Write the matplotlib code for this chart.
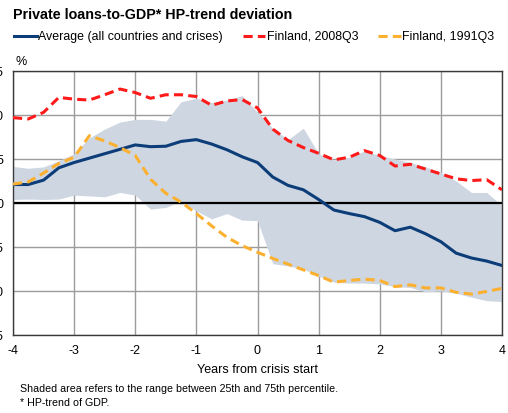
import numpy as np
import matplotlib.pyplot as plt

plt.rcParams['font.family'] = ['Liberation Sans', 'DejaVu Sans']

# Quarters from -4 to +4 years around the crisis start
years = np.arange(-4, 4.01, 0.25)

avg_all = [2.1, 2.1, 2.6, 4.0, 4.6, 5.1, 5.6, 6.1, 6.6, 6.4, 6.45, 7.0, 7.2,
           6.7, 6.05, 5.25, 4.6, 2.95, 2.0, 1.5, 0.4, -0.8, -1.2, -1.55, -2.2,
           -3.15, -2.75, -3.5, -4.4, -5.7, -6.25, -6.6, -7.1]
fin_2008 = [9.7, 9.55, 10.3, 12.0, 11.8, 11.7, 12.3, 12.95, 12.55, 11.9, 12.3,
            12.3, 12.1, 11.1, 11.6, 11.75, 10.8, 8.4, 7.1, 6.3, 5.65, 4.9, 5.2,
            5.95, 5.4, 4.2, 4.4, 3.85, 3.3, 2.75, 2.55, 2.65, 1.5]
fin_1991 = [2.15, 2.4, 3.4, 4.5, 5.2, 7.65, 7.05, 6.3, 5.4, 2.7, 1.1, 0.1, -1.2,
            -2.6, -3.9, -4.85, -5.6, -6.3, -6.95, -7.6, -8.25, -9.0, -8.8,
            -8.65, -8.8, -9.5, -9.3, -9.65, -9.65, -10.15, -10.35, -10.05, -9.7]
p75 = [4.15, 3.95, 4.1, 4.8, 5.6, 7.4, 8.4, 9.2, 9.5, 9.5, 9.3, 11.5, 11.9,
       11.4, 11.7, 12.2, 10.3, 8.5, 7.2, 8.5, 5.6, 4.9, 5.2, 5.9, 5.4, 5.0,
       4.6, 4.1, 3.5, 2.5, 1.2, 1.2, -0.3]
p25 = [0.4, 0.45, 0.4, 0.45, 0.9, 0.8, 0.7, 1.2, 0.9, -0.7, -0.5, 0.2, -0.9,
       -1.8, -1.2, -1.95, -2.0, -6.9, -7.15, -7.5, -8.3, -9.0, -9.1, -9.1,
       -9.2, -9.5, -9.6, -10.1, -10.0, -10.25, -10.7, -11.1, -11.2]

xticks = [-4, -3, -2, -1, 0, 1, 2, 3, 4]
yticks = [-15, -10, -5, 0, 5, 10, 15]

fig = plt.figure(figsize=(5.08, 4.13), dpi=100)
ax = fig.add_axes([13 / 508, 1 - 335 / 413, 489 / 508, 264 / 413])

ax.fill_between(years, p25, p75, color='#cdd6e1', lw=0, zorder=1)
ax.axhline(0, color='black', lw=1.6, zorder=2)
l1, = ax.plot(years, avg_all, color='#0c3d78', lw=2.2, zorder=4,
              label='Average (all countries and crises)')
l2, = ax.plot(years, fin_2008, color='#ff1a1a', lw=2.2, ls=(0, (3, 1.7)), zorder=5,
              label='Finland, 2008Q3')
l3, = ax.plot(years, fin_1991, color='#fbb030', lw=2.2, ls=(0, (3, 1.7)), zorder=5,
              label='Finland, 1991Q3')

ax.set_xlim(-4, 4)
ax.set_ylim(-15, 15)
ax.set_xticks(xticks)
ax.set_yticks(yticks)
ax.set_xticklabels([str(t) for t in xticks], fontsize=9)
ax.set_yticklabels([str(t) for t in yticks], fontsize=9)
ax.tick_params(length=0, pad=7)
ax.grid(True, color='#9c9c9c', lw=1, zorder=0)
ax.set_axisbelow(True)
for s in ax.spines.values():
    s.set_color('#3a3a3a')
    s.set_linewidth(1)
ax.set_xlabel('Years from crisis start', fontsize=9, labelpad=5)

fig.text(13 / 508, 1 - 15 / 413, 'Private loans-to-GDP* HP-trend deviation',
         fontsize=10.3, fontweight='bold', va='center', ha='left')
fig.text(15 / 508, 1 - 62 / 413, '%', fontsize=9, va='center', ha='left')

fig.legend(handles=[l1, l2, l3], loc='center left',
           bbox_to_anchor=(14 / 508, 1 - 37 / 413), ncol=3, frameon=False,
           fontsize=8.9, handlelength=1.85, handletextpad=0.1, columnspacing=1.6,
           borderaxespad=0, borderpad=0)

fig.text(20 / 508, 1 - 389 / 413,
         'Shaded area refers to the range between 25th and 75th percentile.',
         fontsize=7.7, va='center', ha='left')
fig.text(20 / 508, 1 - 403 / 413, '* HP-trend of GDP.',
         fontsize=7.7, va='center', ha='left')

fig.savefig('out.png', dpi=100)
